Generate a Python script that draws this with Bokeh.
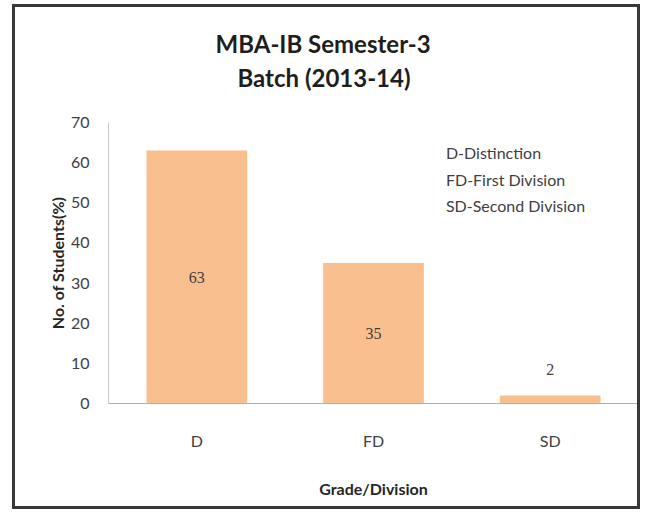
from bokeh.plotting import figure
from bokeh.models import ColumnDataSource, LabelSet, Label, Title, SingleIntervalTicker, Range1d
from bokeh.embed import file_html
from bokeh.resources import INLINE
import numpy as np

categories = ["D", "FD", "SD"]
values = [63, 35, 2]
notes = ["D-Distinction", "FD-First Division", "SD-Second Division"]
title_lines = ["MBA-IB Semester-3", "Batch (2013-14)"]

FONT = "Lato"
vals = np.array(values, dtype=float)
label_y = np.where(vals / 2 > 8, vals / 2, vals + 6.5)
src = ColumnDataSource(dict(cat=categories, val=values, ly=label_y, txt=[str(v) for v in values]))

p = figure(x_range=categories, y_range=Range1d(0, 70), width=628, height=505,
           output_backend="svg", toolbar_location=None,
           min_border_left=93, min_border_right=5, min_border_bottom=109, min_border_top=115)
p.styles = {"border": "3px solid #383838", "margin-left": "12px", "margin-top": "4px"}

# spacer between plot frame and the two title lines
p.add_layout(Title(text=" ", text_font_size="1px", standoff=25), "above")
p.add_layout(Title(text=title_lines[1], align="left", offset=129, text_font=FONT,
                   text_font_size="24px", text_font_style="bold", text_color="#1e1e1e",
                   standoff=6), "above")
p.add_layout(Title(text=title_lines[0], align="left", offset=107, text_font=FONT,
                   text_font_size="24px", text_font_style="bold", text_color="#1e1e1e",
                   standoff=0), "above")

p.vbar(x="cat", top="val", width=0.57, source=src, fill_color="#F9BF8F", line_color=None)
p.add_layout(LabelSet(x="cat", y="ly", text="txt", source=src, text_align="center",
                      text_baseline="middle", text_font=FONT, text_font_size="16px",
                      text_color="#404040"))

for i, t in enumerate(notes):
    p.add_layout(Label(x=1.91, y=62.5 - i * 6.6, text=t, text_font=FONT, text_font_size="16px",
                       text_color="#404040", text_baseline="middle"))

p.xgrid.grid_line_color = None
p.ygrid.grid_line_color = None
p.outline_line_color = None

p.yaxis.ticker = SingleIntervalTicker(interval=10)
p.yaxis.axis_label = "No. of Students(%)"
p.xaxis.axis_label = "Grade/Division"
for ax in (p.xaxis, p.yaxis):
    ax.major_tick_line_color = None
    ax.minor_tick_line_color = None
    ax.major_label_text_font = FONT
    ax.major_label_text_font_size = "16px"
    ax.major_label_text_color = "#404040"
    ax.axis_label_text_font = FONT
    ax.axis_label_text_font_size = "16px"
    ax.axis_label_text_font_style = "bold"
    ax.axis_label_text_color = "#262626"
p.yaxis.axis_line_color = "#c8c8c8"
p.xaxis.axis_line_color = "#b0b0b0"
p.xaxis.major_label_standoff = 21
p.xaxis.axis_label_standoff = 26
p.yaxis.major_label_standoff = 13
p.yaxis.axis_label_standoff = 1

open("out.html", "w").write(file_html(p, INLINE))
